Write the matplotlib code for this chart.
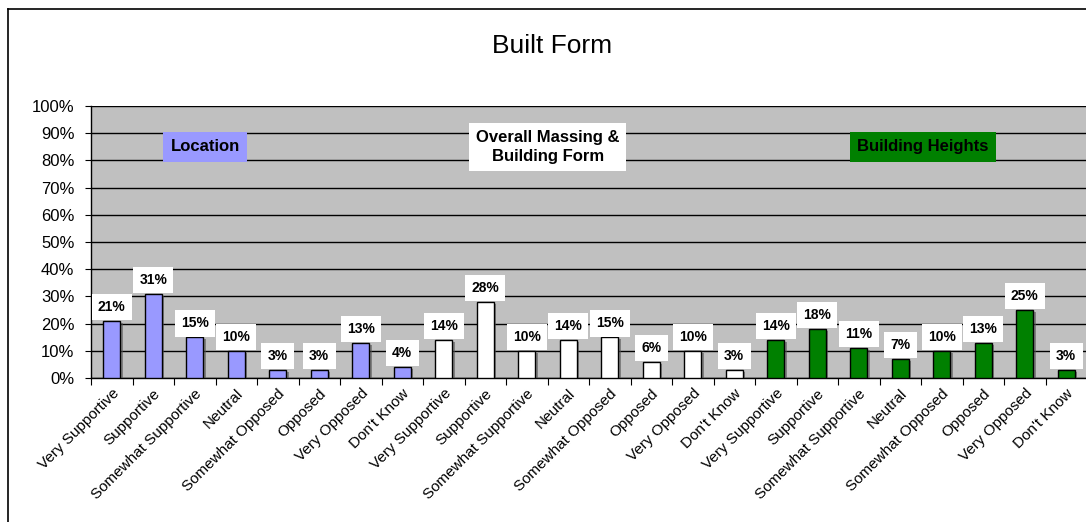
import matplotlib
matplotlib.use("Agg")
import matplotlib.pyplot as plt
from matplotlib.lines import Line2D
import matplotlib.patheffects as pe

# data
answers = ["Very Supportive", "Supportive", "Somewhat Supportive", "Neutral",
           "Somewhat Opposed", "Opposed", "Very Opposed", "Don't Know"]
location = [21, 31, 15, 10, 3, 3, 13, 4]
massing = [14, 28, 10, 14, 15, 6, 10, 3]
heights = [14, 18, 11, 7, 10, 13, 25, 3]
groups = ["Location", "Overall Massing &\nBuilding Form", "Building Heights"]
colors = ["#9999FF", "#FFFFFF", "#008000"]

plt.rcParams['font.family'] = ['Liberation Sans', 'DejaVu Sans']

fig = plt.figure(figsize=(10.86, 5.22), dpi=100)
ax = fig.add_axes([91/1086, 1-378/522, 996/1086, 272/522])
ax.set_facecolor("#C0C0C0")

labels = answers * 3
vals = location + massing + heights
cols = [colors[0]]*8 + [colors[1]]*8 + [colors[2]]*8
x = list(range(len(vals)))

bars = ax.bar(x, vals, width=0.42, color=cols, edgecolor="black", linewidth=1, zorder=3)
for b in bars:
    b.set_path_effects([pe.SimplePatchShadow(offset=(1.5, -1.5), shadow_rgbFace="#555555", alpha=0.6), pe.Normal()])

for xi, v in zip(x, vals):
    ax.annotate(f"{v}%", (xi, v), xytext=(0, 10), textcoords="offset points",
                ha="center", va="center", fontsize=10, fontweight="bold",
                bbox=dict(boxstyle="square,pad=0.45", fc="white", ec="none"), zorder=5)

ax.set_ylim(0, 100)
ax.set_xlim(-0.5, 23.5)
ax.set_yticks(range(0, 101, 10))
ax.set_yticklabels([f"{t}%" for t in range(0, 101, 10)], fontsize=12)
ax.yaxis.grid(True, color="black", linewidth=1, zorder=1)
ax.set_axisbelow(True)

ax.set_xticks([i + 0.5 for i in range(-1, 24)], minor=False)
ax.set_xticklabels([])
ax.set_xticks(x, minor=True)
ax.set_xticklabels(labels, minor=True, rotation=45, ha="right", rotation_mode="anchor", fontsize=11)
ax.tick_params(axis="x", which="minor", length=0, pad=6)
ax.tick_params(axis="x", which="major", length=5, direction="out")
ax.tick_params(axis="y", length=4, pad=8)
for s in ["top", "right"]:
    ax.spines[s].set_visible(False)
ax.spines["left"].set_linewidth(1)
ax.spines["bottom"].set_linewidth(1)

# group captions
ax.text(2.25, 85, groups[0], ha="center", va="center", fontsize=12, fontweight="bold",
        bbox=dict(boxstyle="square,pad=0.45", fc=colors[0], ec="none"), zorder=6)
ax.text(10.51, 85, groups[1], ha="center", va="center", fontsize=12, fontweight="bold",
        linespacing=1.35, bbox=dict(boxstyle="square,pad=0.4", fc=colors[1], ec="none"), zorder=6)
ax.text(19.55, 85, groups[2], ha="center", va="center", fontsize=12, fontweight="bold",
        bbox=dict(boxstyle="square,pad=0.45", fc=colors[2], ec="none"), zorder=6)

fig.text(552/1086, 1-46/522, "Built Form", ha="center", va="center", fontsize=19)

# outer chart frame
fig.add_artist(Line2D([8/1086, 8/1086], [0, 1-9/522], color="black", linewidth=1.2))
fig.add_artist(Line2D([8/1086, 1], [1-9/522, 1-9/522], color="black", linewidth=1.2))

fig.savefig("out.png", dpi=100)
